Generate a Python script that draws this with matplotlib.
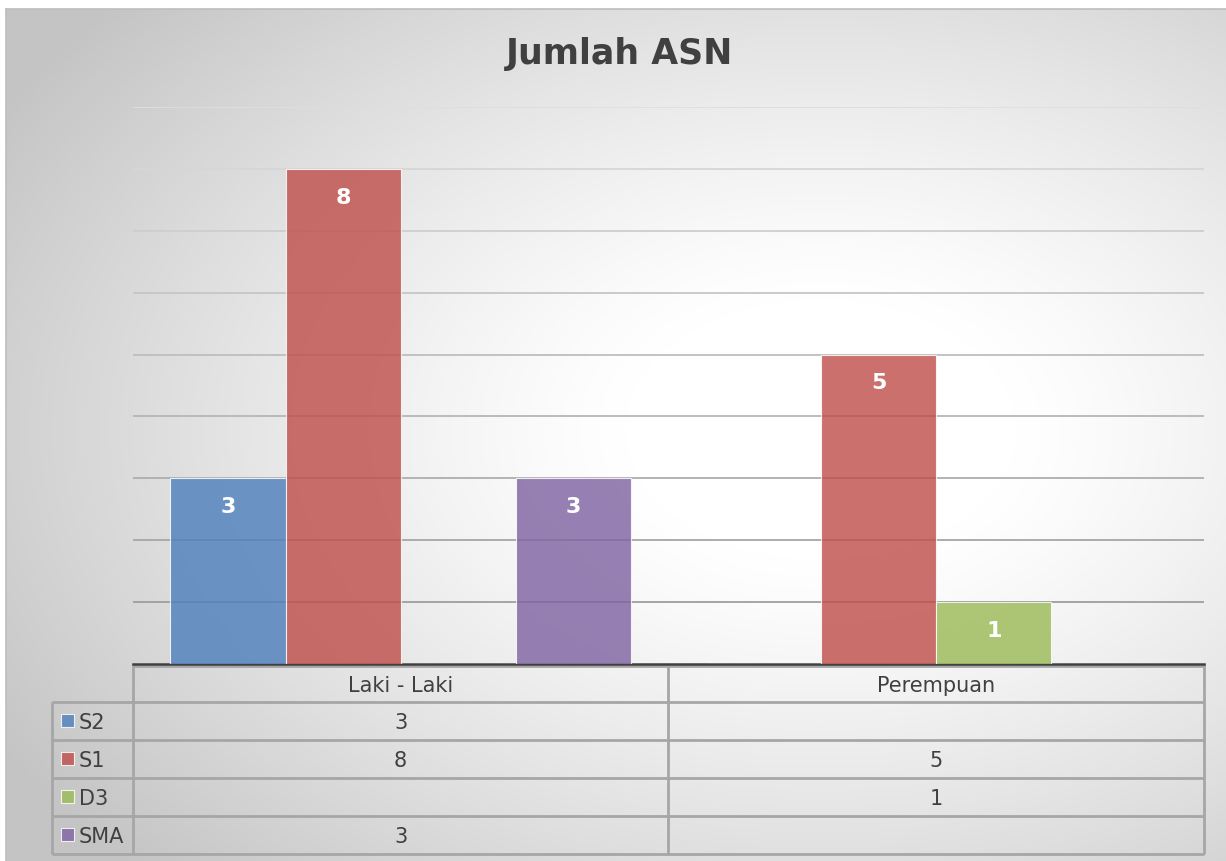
import numpy as np
import matplotlib
matplotlib.use('Agg')
import matplotlib.pyplot as plt

# data
categories = ['Laki - Laki', 'Perempuan']
series = ['S2', 'S1', 'D3', 'SMA']
s2 = [3, None]
s1 = [8, 5]
d3 = [None, 1]
sma = [3, None]
values = [s2, s1, d3, sma]
colors = ['#4f81bd', '#c0504d', '#9bbb59', '#8064a2']

W, H = 1226, 862
fig = plt.figure(figsize=(W / 100, H / 100), dpi=100)

# background with radial gradient + data table (pixel coords)
bg = fig.add_axes([0, 0, 1, 1], zorder=0)
bg.set_xlim(0, W)
bg.set_ylim(H, 0)
bg.axis('off')
yy, xx = np.mgrid[0:H, 0:W]
r = np.sqrt(((xx - 820) / 780.0) ** 2 + ((yy - 430) / 520.0) ** 2)
t = np.clip((r - 0.25) / 0.9, 0, 1.3)
grad = np.clip(1.0 - 0.21 * t ** 1.2, 0.77, 1.0)
img = np.dstack([grad, grad, grad])
img[:10, :, :] = 1.0
img[:, :6, :] = 1.0
bg.imshow(img, extent=[0, W, H, 0], aspect='auto', interpolation='bilinear')
bg.plot([6, W], [10, 10], color='#bdbdbd', lw=1.2)
bg.plot([6, 6], [10, H], color='#bdbdbd', lw=1.2)

bg.text(620, 54, 'Jumlah ASN', ha='center', va='center', fontsize=25,
        fontweight='bold', color='#404040')

# table
line_kw = dict(color='#a6a6a6', lw=2, solid_capstyle='butt')
rows_y = [703, 741, 779, 817, 855]
col_x = [133, 668, 1204]
bg.plot([133, 1204], [667, 667], **line_kw)
for y in rows_y:
    bg.plot([52, 1204], [y, y], **line_kw)
bg.plot([52, 52], [703, 855], **line_kw)
for x in col_x:
    bg.plot([x, x], [665, 855], **line_kw)
for j, cat in enumerate(categories):
    cx = (col_x[j] + col_x[j + 1]) / 2
    bg.text(cx, 686, cat, ha='center', va='center', fontsize=15, color='#404040')
for i, name in enumerate(series):
    cy = (rows_y[i] + rows_y[i + 1]) / 2
    bg.add_patch(plt.Rectangle((61, cy - 7), 13, 13, facecolor=colors[i],
                               edgecolor='white', lw=0.8, alpha=0.82))
    bg.text(79, cy + 1, name, ha='left', va='center', fontsize=15, color='#404040')
    for j in range(len(categories)):
        v = values[i][j]
        if v is not None:
            cx = (col_x[j] + col_x[j + 1]) / 2
            bg.text(cx, cy + 1, str(v), ha='center', va='center', fontsize=15,
                    color='#404040')

# bar chart
ax = fig.add_axes([133 / W, 1 - 665 / H, (1204 - 133) / W, (665 - 108) / H], zorder=1)
ax.patch.set_alpha(0)
x = np.arange(len(categories))
bw = 0.215
for i, name in enumerate(series):
    vals = [v if v is not None else 0 for v in values[i]]
    bars = ax.bar(x + (i - 1.5) * bw, vals, width=bw, color=colors[i], alpha=0.82,
                  edgecolor='#ffffff', linewidth=0.8, zorder=3)
    for b, v in zip(bars, values[i]):
        if v is not None:
            ax.annotate(str(v), (b.get_x() + b.get_width() / 2, v), xytext=(0, -20),
                        textcoords='offset points', ha='center', va='center',
                        fontsize=16, fontweight='bold', color='white', zorder=4)

ax.set_xlim(-0.5, 1.5)
ax.set_ylim(0, 9)
# gridlines fade toward the top like the original
for k in range(1, 10):
    g = 0.62 + (k - 1) / 8 * 0.25
    ax.axhline(k, color=(g, g, g), lw=1.3, zorder=1)
ax.set_xticks([])
ax.set_yticks([])
for s in ['top', 'right', 'left']:
    ax.spines[s].set_visible(False)
ax.spines['bottom'].set_color('#404040')
ax.spines['bottom'].set_linewidth(1.8)

fig.savefig('out.png', dpi=100)
